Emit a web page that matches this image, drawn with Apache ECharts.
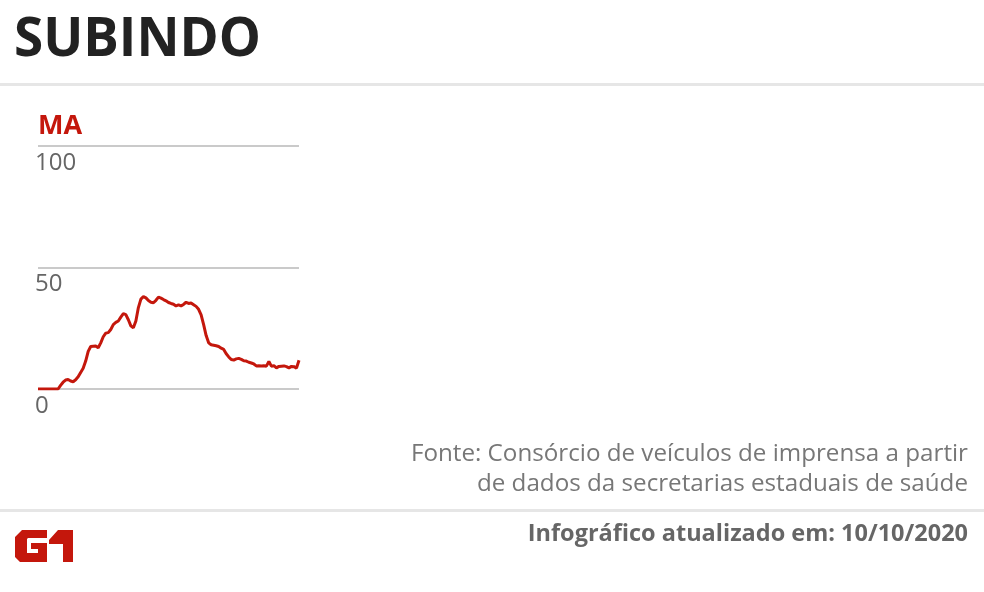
<!DOCTYPE html>
<html>
<head>
<meta charset="utf-8">
<script src="https://cdn.jsdelivr.net/npm/echarts@6/dist/echarts.min.js"></script>
<style>
html,body{margin:0;padding:0;background:#fff;}
#chart{width:984px;height:592px;}
</style>
</head>
<body>
<div id="chart"></div>
<script>
var title = 'SUBINDO';
var stateLabel = 'MA';
var sourceLines = ['Fonte: Consórcio de veículos de imprensa a partir', 'de dados da secretarias estaduais de saúde'];
var footer = 'Infográfico atualizado em: 10/10/2020';
var yTicks = [0, 50, 100];
var values = [
  0, 0, 0, 0, 0, 0, 0, 0, 0, 1.5,
  2.8, 3.7, 3.9, 3.3, 3.0, 3.8, 5.0, 6.8, 8.5, 11.5,
  15.5, 17.5, 17.6, 17.7, 17.0, 19.0, 21.5, 23.0, 23.2, 24.5,
  26.5, 27.4, 28.0, 29.6, 31.0, 30.6, 28.5, 26.0, 25.2, 28.0,
  33.5, 37.0, 38.0, 37.5, 36.4, 35.7, 35.5, 36.5, 37.8, 37.4,
  36.8, 36.3, 35.6, 35.2, 34.9, 34.2, 34.6, 34.2, 34.8, 35.7,
  35.2, 35.4, 34.7, 34.0, 32.8, 30.5, 26.5, 22.0, 19.0, 18.2,
  18.0, 17.8, 17.5, 16.8, 16.3, 14.5, 13.2, 12.1, 11.9, 12.4,
  12.6, 12.2, 11.6, 11.5, 11.0, 10.7, 10.3, 9.5, 9.6, 9.5,
  9.6, 9.4, 11.3, 9.4, 9.6, 8.7, 9.3, 9.4, 9.5, 9.2,
  8.7, 9.3, 9.2, 8.6, 11.8
];
var days = values.map(function (v, i) { return 'd' + (i + 1); });

var RED = '#c4170c';
var FONT = '"Open Sans", "DejaVu Sans", sans-serif';

var chart = echarts.init(document.getElementById('chart'), null, {renderer: 'canvas'});
chart.setOption({
  animation: false,
  backgroundColor: '#ffffff',
  grid: {left: 38, right: 685, top: 146, bottom: 203, containLabel: false},
  xAxis: {
    type: 'category', data: days, boundaryGap: false,
    axisLine: {show: false}, axisTick: {show: false}, axisLabel: {show: false}, splitLine: {show: false}
  },
  yAxis: {
    type: 'value', min: yTicks[0], max: yTicks[yTicks.length - 1], interval: 50,
    axisLine: {show: false}, axisTick: {show: false},
    splitLine: {show: true, lineStyle: {color: '#b8b8b8', width: 1.5}},
    axisLabel: {
      inside: true, margin: -3, align: 'left', verticalAlign: 'top',
      padding: [5, 0, 0, 0],
      fontFamily: FONT, fontSize: 24, color: '#666'
    }
  },
  series: [{
    type: 'line', data: values, showSymbol: false, smooth: false,
    lineStyle: {color: RED, width: 3}, z: 5
  }],
  graphic: [
    {type: 'text', left: 14, top: 14, style: {text: title, font: 'bold 53px ' + FONT, fill: '#222'}},
    {type: 'rect', shape: {x: 0, y: 83, width: 984, height: 3}, style: {fill: '#e6e6e6'}},
    {type: 'text', left: 38, top: 113, style: {text: stateLabel, font: 'bold 27px ' + FONT, fill: RED}},
    {type: 'text', right: 16, top: 442, style: {text: sourceLines[0], font: '24.2px ' + FONT, fill: '#777', textAlign: 'right'}},
    {type: 'text', right: 16, top: 472, style: {text: sourceLines[1], font: '24.2px ' + FONT, fill: '#777', textAlign: 'right'}},
    {type: 'rect', shape: {x: 0, y: 509, width: 984, height: 3}, style: {fill: '#e6e6e6'}},
    {type: 'text', right: 16, top: 522, style: {text: footer, font: 'bold 23.5px ' + FONT, fill: '#666', textAlign: 'right'}},
    {type: 'polygon', shape: {points: [[22,530],[47,530],[47,538],[28,538],[27,539],[27,553],[38,553],[38,549],[31,549],[31,543],[47,543],[47,562],[20,562],[15,557],[15,537]]}, style: {fill: RED}},
    {type: 'polygon', shape: {points: [[58,530],[73,530],[73,562],[63,562],[63,544],[49,544],[49,540]]}, style: {fill: RED}}
  ]
});
</script>
</body>
</html>
